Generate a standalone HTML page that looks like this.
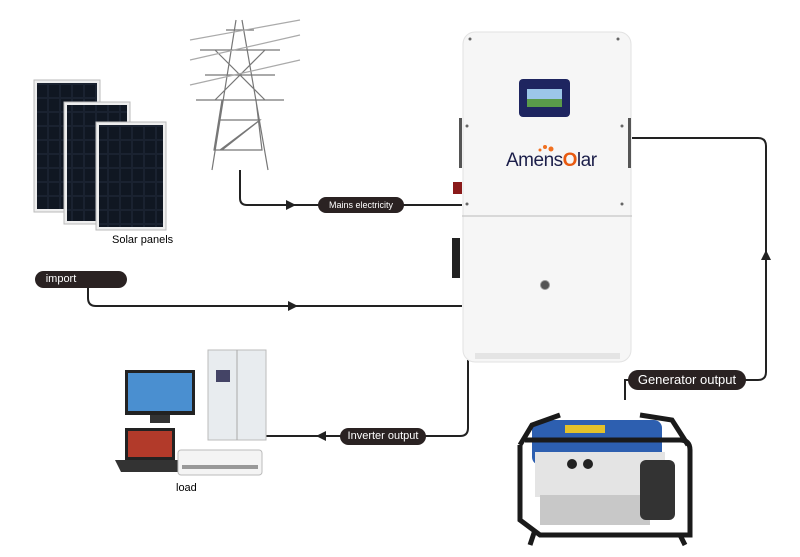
<!DOCTYPE html>
<html><head><meta charset="utf-8"><style>
body{margin:0;width:800px;height:557px;background:#fff;position:relative;overflow:hidden;font-family:"Liberation Sans",sans-serif}
.pill{position:absolute;background:#2a2222;color:#fff;border-radius:10px;font-size:11px;text-align:center;box-sizing:border-box}
</style></head><body>
<svg width="800" height="557" style="position:absolute;left:0;top:0">
<defs>
<pattern id="cell" width="12" height="14" patternUnits="userSpaceOnUse"><rect width="12" height="14" fill="#1a2230"/><rect x="1" y="1" width="10" height="12" fill="#101722"/></pattern>
</defs>
<rect x="34" y="80" width="66" height="132" fill="#eee" stroke="#bbb"/><rect x="37" y="83" width="60" height="126" fill="url(#cell)"/>
<rect x="64" y="102" width="66" height="122" fill="#eee" stroke="#bbb"/><rect x="67" y="105" width="60" height="116" fill="url(#cell)"/>
<rect x="96" y="122" width="70" height="108" fill="#eee" stroke="#bbb"/><rect x="99" y="125" width="64" height="102" fill="url(#cell)"/>
<g stroke="#777" stroke-width="1.2" fill="none">
<path d="M236 20 L212 170 M242 20 L268 170 M200 50 L280 50 M205 75 L275 75 M196 100 L284 100 M222 100 L214 150 L262 150 L256 100 M220 120 L260 120 L220 150 M260 120 L222 150 M215 50 L265 100 M265 50 L215 100 M226 30 L254 30"/>
<path d="M190 40 L300 20 M190 60 L300 35 M190 85 L300 60" stroke="#aaa"/>
</g>
<g stroke="#222" stroke-width="2" fill="none">
<path d="M240 170 V198 Q240 205 247 205 H462"/>
<path d="M88 287 V298 Q88 306 96 306 H462"/>
<path d="M468 360 V428 Q468 436 460 436 H262"/>
<path d="M625 400 V380 H758 Q766 380 766 372 V146 Q766 138 758 138 H632"/>
</g>
<g fill="#222">
<path d="M296 205 l-10 -5 v10z"/><path d="M298 306 l-10 -5 v10z"/>
<path d="M316 436 l10 -5 v10z"/><path d="M766 250 l-5 10 h10z"/>
</g>
<!-- inverter -->
<rect x="463" y="32" width="168" height="330" rx="12" fill="#f6f6f6" stroke="#e2e2e2"/>
<line x1="462" y1="216" x2="632" y2="216" stroke="#bbb"/>
<rect x="459" y="118" width="3" height="50" fill="#555"/><rect x="628" y="118" width="3" height="50" fill="#555"/>
<rect x="452" y="238" width="8" height="40" fill="#222"/>
<rect x="453" y="182" width="9" height="12" fill="#8a1a1a"/>
<g fill="#666"><circle cx="470" cy="39" r="1.5"/><circle cx="618" cy="39" r="1.5"/><circle cx="467" cy="126" r="1.5"/><circle cx="622" cy="126" r="1.5"/><circle cx="467" cy="204" r="1.5"/><circle cx="622" cy="204" r="1.5"/></g>
<rect x="519" y="79" width="51" height="38" rx="4" fill="#1e2560"/><rect x="527" y="89" width="35" height="18" fill="#9cc6e8"/><rect x="527" y="99" width="35" height="8" fill="#5a9b4a"/>
<circle cx="545" cy="285" r="4.5" fill="#555" stroke="#999"/>
<rect x="475" y="353" width="145" height="6" fill="#e4e4e4"/>
<g fill="#f07020"><circle cx="540" cy="150" r="1.5"/><circle cx="545" cy="147" r="2"/><circle cx="551" cy="149" r="2.5"/></g>
<!-- generator -->
<rect x="532" y="420" width="130" height="45" rx="8" fill="#2d5fb0"/>
<rect x="565" y="425" width="40" height="8" fill="#e3c12a"/>
<rect x="535" y="452" width="130" height="45" fill="#e4e4e4"/>
<rect x="540" y="495" width="110" height="30" fill="#c8c8c8"/>
<rect x="640" y="460" width="35" height="60" rx="6" fill="#333"/>
<circle cx="572" cy="464" r="5" fill="#222"/><circle cx="588" cy="464" r="5" fill="#222"/>
<g stroke="#1a1a1a" stroke-width="5" fill="none">
<path d="M520 445 L532 425 L560 415 M688 445 L672 420 L640 415"/>
<path d="M520 445 V520 L540 535 H690 V450 Q690 440 680 440 H525"/>
<path d="M535 530 L530 545 M680 535 L685 545"/>
</g>
<!-- load -->
<rect x="125" y="370" width="70" height="45" fill="#222"/><rect x="128" y="373" width="64" height="38" fill="#4a8fd0"/><rect x="150" y="415" width="20" height="8" fill="#333"/>
<rect x="208" y="350" width="58" height="90" fill="#e8ecef" stroke="#bbb"/><line x1="237" y1="350" x2="237" y2="440" stroke="#aaa"/><rect x="216" y="370" width="14" height="12" fill="#446"/>
<path d="M125 428 h50 v32 h-50z" fill="#222"/><rect x="128" y="431" width="44" height="26" fill="#b23a2a"/><path d="M115 460 h70 l-6 12 h-58z" fill="#333"/>
<rect x="178" y="450" width="84" height="25" rx="3" fill="#f4f4f4" stroke="#bbb"/><rect x="182" y="465" width="76" height="4" fill="#999"/>
</svg>
<div style="position:absolute;left:506px;top:150px;font-size:19px;color:#1c1f4a;letter-spacing:-0.5px">Amens<span style="color:#e85a10;font-weight:bold">O</span>lar</div>
<div class="pill" style="left:318px;top:197px;width:86px;height:16px;line-height:16px;font-size:9px">Mains electricity</div>
<div class="pill" style="left:35px;top:271px;width:92px;height:17px;line-height:17px;padding-right:40px">import</div>
<div class="pill" style="left:340px;top:428px;width:86px;height:17px;line-height:17px;font-size:11px">Inverter output</div>
<div class="pill" style="left:628px;top:370px;width:118px;height:20px;line-height:20px;font-size:13px">Generator output</div>
<div style="position:absolute;left:112px;top:234px;font-size:11px">Solar panels</div>
<div style="position:absolute;left:176px;top:482px;font-size:11px">load</div>
</body></html>
